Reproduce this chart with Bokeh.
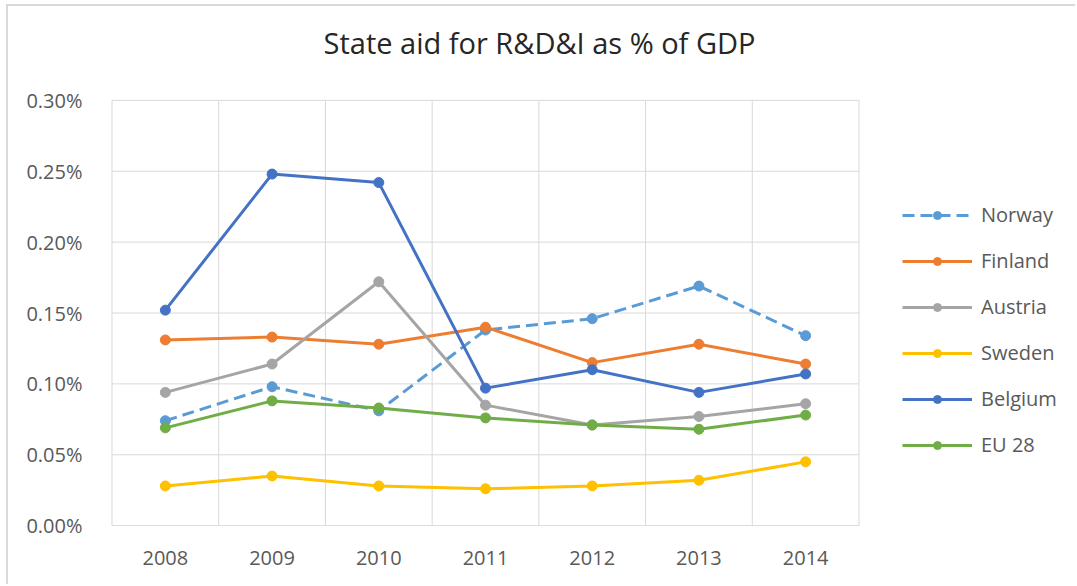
from bokeh.plotting import figure
from bokeh.models import (Range1d, FixedTicker, NumeralTickFormatter, Legend, LegendItem, Label)
from bokeh.embed import file_html
from bokeh.resources import INLINE

title = "State aid for R&D&I as % of  GDP"
years = ["2008", "2009", "2010", "2011", "2012", "2013", "2014"]
norway  = [0.00074, 0.00098, 0.00081, 0.00138, 0.00146, 0.00169, 0.00134]
finland = [0.00131, 0.00133, 0.00128, 0.00140, 0.00115, 0.00128, 0.00114]
austria = [0.00094, 0.00114, 0.00172, 0.00085, 0.00071, 0.00077, 0.00086]
sweden  = [0.00028, 0.00035, 0.00028, 0.00026, 0.00028, 0.00032, 0.00045]
belgium = [0.00152, 0.00248, 0.00242, 0.00097, 0.00110, 0.00094, 0.00107]
eu28    = [0.00069, 0.00088, 0.00083, 0.00076, 0.00071, 0.00068, 0.00078]
y_ticks = [0.0, 0.0005, 0.001, 0.0015, 0.002, 0.0025, 0.003]

series = [
    ("Norway", norway, "#5b9bd5", "12 6"),
    ("Finland", finland, "#ed7d31", "solid"),
    ("Austria", austria, "#a5a5a5", "solid"),
    ("Sweden", sweden, "#ffc000", "solid"),
    ("Belgium", belgium, "#4472c4", "solid"),
    ("EU 28", eu28, "#70ad47", "solid"),
]

FONT = "Open Sans"
GRID = "#d9d9d9"
n = len(years)
xs = [i + 0.5 for i in range(n)]
y_top = y_ticks[-1]

# layout (pixels)
W, H = 1069, 580
BL, BR, BT, BB = 102, 10, 0, 60
frame_w = W - BL - BR
frame_h = H - BT - BB
box_w, box_h = 750, 427          # gridded data box inside the frame
pad = 0.002

x_lo = -n * pad
x_hi = x_lo + (n * (1 + 2 * pad)) * frame_w / box_w
y_lo = -y_top * pad
y_span = y_top * (1 + 2 * pad)
y_hi = y_lo + y_span * frame_h / box_h

p = figure(width=W, height=H, output_backend="svg", toolbar_location=None,
           x_range=Range1d(x_lo, x_hi), y_range=Range1d(y_lo, y_hi),
           min_border_left=BL, min_border_right=BR, min_border_top=BT, min_border_bottom=BB)
p.styles = {"border-top": "2px solid #d9d9d9", "border-left": "2px solid #d9d9d9",
            "margin-top": "4px", "margin-left": "6px"}
p.outline_line_color = None
p.grid.visible = False

# gridded plot-area box: horizontal lines at the y ticks, vertical lines between categories
cat_edges = list(range(n + 1))
p.segment(x0=[0] * len(y_ticks), y0=y_ticks, x1=[n] * len(y_ticks), y1=y_ticks,
          line_color=GRID, line_width=1)
p.segment(x0=cat_edges, y0=[0] * len(cat_edges), x1=cat_edges, y1=[y_top] * len(cat_edges),
          line_color=GRID, line_width=1)

# chart title, placed above the gridded box
p.add_layout(Label(x=n * 433 / box_w, y=y_lo + y_span * (box_h + 57) / box_h,
                   text=title, text_align="center", text_baseline="alphabetic",
                   text_font=FONT, text_font_size="29px", text_color="#262626"))

p.xaxis.ticker = FixedTicker(ticks=xs)
p.xaxis.major_label_overrides = {x: y for x, y in zip(xs, years)}
p.yaxis.ticker = FixedTicker(ticks=y_ticks)
p.yaxis.formatter = NumeralTickFormatter(format="0.00%")
for ax in (p.xaxis, p.yaxis):
    ax.axis_line_color = None
    ax.major_tick_line_color = None
    ax.minor_tick_line_color = None
    ax.major_label_text_font = FONT
    ax.major_label_text_font_size = "20px"
    ax.major_label_text_color = "#595959"
p.yaxis.major_label_standoff = 22
p.xaxis.major_label_standoff = 18

items = []
for name, vals, color, dash in series:
    r1 = p.line(xs, vals, line_color=color, line_width=3, line_dash=dash)
    r2 = p.scatter(xs, vals, size=10, marker="circle", fill_color=color, line_color=color)
    items.append(LegendItem(label=name, renderers=[r1, r2]))

legend = Legend(items=items, location=(792, 68), orientation="vertical")
legend.glyph_width = 70
legend.glyph_height = 20
legend.label_height = 20
legend.spacing = 19
legend.padding = 0
legend.margin = 0
legend.label_standoff = 9
legend.border_line_color = None
legend.background_fill_alpha = 0
legend.label_text_font = FONT
legend.label_text_font_size = "20px"
legend.label_text_color = "#595959"
p.add_layout(legend, "center")

open("out.html", "w").write(file_html(p, INLINE))
